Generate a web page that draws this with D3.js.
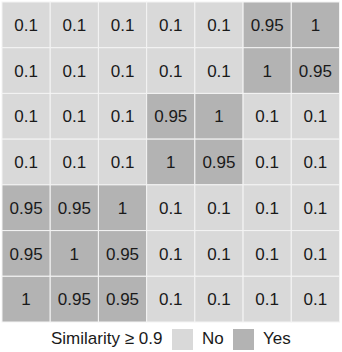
<!DOCTYPE html>
<html>
<head>
<meta charset="utf-8">
<script src="https://cdn.jsdelivr.net/npm/d3@7"></script>
<style>
  body { margin: 0; background: #fff; }
  text { font-family: 'Liberation Sans', Arial, sans-serif; fill: #1a1a1a; }
</style>
</head>
<body>
<div id="chart"></div>
<script>
const ROWS = ['r1', 'r2', 'r3', 'r4', 'r5', 'r6', 'r7'],
      COLS = ['c1', 'c2', 'c3', 'c4', 'c5', 'c6', 'c7']

// similarity matrix, read row by row from the top
const VALUES = [
  [0.1, 0.1, 0.1, 0.1, 0.1, 0.95, 1],
  [0.1, 0.1, 0.1, 0.1, 0.1, 1, 0.95],
  [0.1, 0.1, 0.1, 0.95, 1, 0.1, 0.1],
  [0.1, 0.1, 0.1, 1, 0.95, 0.1, 0.1],
  [0.95, 0.95, 1, 0.1, 0.1, 0.1, 0.1],
  [0.95, 1, 0.95, 0.1, 0.1, 0.1, 0.1],
  [1, 0.95, 0.95, 0.1, 0.1, 0.1, 0.1]
]

const THRESHOLD = 0.9,
      LEGEND_TITLE = 'Similarity \u2265 0.9',
      LEGEND_KEYS = [
        { label: 'No', similar: false },
        { label: 'Yes', similar: true }
      ]

const SIZE = Object.freeze({ WIDTH: 342, HEIGHT: 352 }),
      GRID = Object.freeze({ LEFT: 2, RIGHT: 339.5, TOP: 2, BOTTOM: 322 })

const cells = []
VALUES.forEach((row, i) => row.forEach((v, j) => cells.push({
  row: ROWS[i], col: COLS[j], value: v
})))

const xScale = d3.scaleBand().domain(COLS).range([GRID.LEFT, GRID.RIGHT]),
      yScale = d3.scaleBand().domain(ROWS).range([GRID.TOP, GRID.BOTTOM]),
      colorScale = d3.scaleOrdinal().domain([false, true]).range(['#d9d9d9', '#b3b3b3'])

const svg = d3.select('#chart')
  .append('svg')
  .attr('width', SIZE.WIDTH)
  .attr('height', SIZE.HEIGHT)

svg.append('g')
  .selectAll('rect')
  .data(cells)
  .enter()
  .append('rect')
  .attr('x', d => xScale(d.col))
  .attr('y', d => yScale(d.row))
  .attr('width', xScale.bandwidth())
  .attr('height', yScale.bandwidth())
  .attr('fill', d => colorScale(d.value >= THRESHOLD))
  .attr('stroke', '#f4f4f4')
  .attr('stroke-width', 1)

svg.append('g')
  .selectAll('text')
  .data(cells)
  .enter()
  .append('text')
  .attr('x', d => xScale(d.col) + xScale.bandwidth() / 2)
  .attr('y', d => yScale(d.row) + yScale.bandwidth() / 2)
  .attr('dy', '0.36em')
  .attr('text-anchor', 'middle')
  .style('font-size', '17px')
  .text(d => d.value)

const legend = svg.append('g').attr('id', 'legend')
legend.append('text')
  .attr('x', 51)
  .attr('y', 344)
  .style('font-size', '17px')
  .text(LEGEND_TITLE)

const keyX = d3.scaleOrdinal().domain([false, true]).range([172, 233])
legend.selectAll('rect')
  .data(LEGEND_KEYS)
  .enter()
  .append('rect')
  .attr('x', d => keyX(d.similar))
  .attr('y', 329)
  .attr('width', 21)
  .attr('height', 21)
  .attr('fill', d => colorScale(d.similar))
legend.selectAll('text.key')
  .data(LEGEND_KEYS)
  .enter()
  .append('text')
  .attr('class', 'key')
  .attr('x', d => keyX(d.similar) + 30)
  .attr('y', 344)
  .style('font-size', '17px')
  .text(d => d.label)
</script>
</body>
</html>
